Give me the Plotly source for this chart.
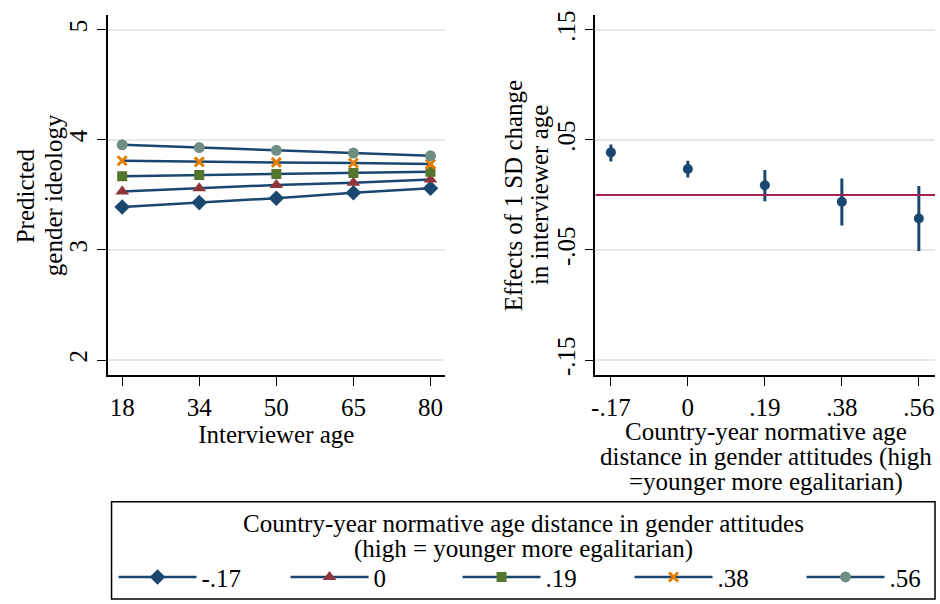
import plotly.graph_objects as go

# ---- data ----
ages = ["18", "34", "50", "65", "80"]
groups = ["-.17", "0", ".19", ".38", ".56"]
pred = {
    "-.17": [3.39, 3.43, 3.47, 3.52, 3.56],
    "0":    [3.53, 3.56, 3.59, 3.61, 3.64],
    ".19":  [3.67, 3.68, 3.69, 3.70, 3.71],
    ".38":  [3.81, 3.80, 3.795, 3.79, 3.78],
    ".56":  [3.955, 3.93, 3.905, 3.88, 3.855],
}
effect = [0.0386, 0.0235, 0.0087, -0.0063, -0.0214]
ci_hi = [0.0458, 0.0310, 0.0226, 0.0150, 0.0081]
ci_lo = [0.0304, 0.0157, -0.0057, -0.0277, -0.0509]

left_yticks = [2, 3, 4, 5]
right_yticks = [-0.15, -0.05, 0.05, 0.15]
right_yticklabels = ["-.15", "-.05", ".05", ".15"]

left_ytitle = ["Predicted", "gender ideology"]
right_ytitle = ["Effects of 1 SD change", "in interviewer age"]
right_xtitle = ["Country-year normative age", "distance in gender attitudes (high", "=younger more egalitarian)"]
legend_title = ["Country-year normative age distance in gender attitudes", "(high = younger more egalitarian)"]

# ---- styles ----
navy = "#1a476f"
marker_style = {
    "-.17": dict(symbol="diamond", color="#1a476f", size=12),
    "0":    dict(symbol="triangle-up", color="#90353b", size=12),
    ".19":  dict(symbol="square", color="#55752f", size=10),
    ".38":  dict(symbol="x-thin", color="#e37e00", size=9, line=dict(width=3, color="#e37e00")),
    ".56":  dict(symbol="circle", color="#6e8e84", size=11),
}
FONT = "Liberation Serif"
W, H = 940, 604

fig = go.Figure()
for i, g in enumerate(groups):
    fig.add_trace(go.Scatter(
        x=ages, y=pred[g], mode="lines+markers", name=g,
        line=dict(color=navy, width=2.5),
        marker=marker_style[g], xaxis="x", yaxis="y",
        legendwidth=(40 if i == len(groups) - 1 else None),
    ))

fig.add_trace(go.Scatter(
    x=groups, y=effect, mode="markers", showlegend=False,
    marker=dict(symbol="circle", color=navy, size=10),
    error_y=dict(type="data", symmetric=False,
                 array=[h - e for h, e in zip(ci_hi, effect)],
                 arrayminus=[e - l for l, e in zip(ci_lo, effect)],
                 color=navy, thickness=3, width=0),
    xaxis="x2", yaxis="y2",
))

axis_common = dict(showline=True, linecolor="black", linewidth=1.5, ticks="outside",
                   ticklen=9, tickcolor="black", tickwidth=1.2, zeroline=False,
                   tickfont=dict(family=FONT, size=25, color="black"))

annotations = []
for txt, xc in zip(left_ytitle, [21, 50]):
    annotations.append(dict(text=txt, xref="paper", yref="paper", x=xc / W, y=1 - 193 / H,
                            textangle=-90, showarrow=False, xanchor="center", yanchor="middle",
                            font=dict(size=25)))
for txt, xc in zip(right_ytitle, [512, 538]):
    annotations.append(dict(text=txt, xref="paper", yref="paper", x=xc / W, y=1 - 193 / H,
                            textangle=-90, showarrow=False, xanchor="center", yanchor="middle",
                            font=dict(size=25)))
for txt, yc in zip(right_xtitle, [431, 457, 482]):
    annotations.append(dict(text=txt, xref="paper", yref="paper", x=765 / W, y=1 - yc / H,
                            showarrow=False, xanchor="center", yanchor="middle",
                            font=dict(size=25)))
for txt, yc in zip(legend_title, [524, 550]):
    annotations.append(dict(text=txt, xref="paper", yref="paper", x=522 / W, y=1 - yc / H,
                            showarrow=False, xanchor="center", yanchor="middle",
                            font=dict(size=25)))

fig.update_layout(
    width=W, height=H,
    margin=dict(l=0, r=0, t=0, b=0),
    paper_bgcolor="white", plot_bgcolor="white",
    font=dict(family=FONT, size=25, color="black"),
    xaxis=dict(domain=[104/W, 443/W], type="category", range=[-0.19, 4.19],
               showgrid=False, anchor="y",
               title=dict(text="Interviewer age", font=dict(size=25), standoff=0),
               **axis_common),
    yaxis=dict(domain=[1-374/H, 1-11/H], range=[1.865, 5.135], tickvals=left_yticks,
               tickangle=-90, showgrid=True, gridcolor="#e8e8e8", gridwidth=1.5, anchor="x",
               **axis_common),
    xaxis2=dict(domain=[594/W, 935/W], type="category", range=[-0.2, 4.21],
                showgrid=False, anchor="y2", **axis_common),
    yaxis2=dict(domain=[1-374/H, 1-11/H], range=[-0.1635, 0.1635], tickvals=right_yticks,
                ticktext=right_yticklabels, tickangle=-90, showgrid=True, gridcolor="#e8e8e8",
                gridwidth=1.5, anchor="x2", **axis_common),
    legend=dict(orientation="h", x=110/W, xanchor="left", y=1-578/H, yanchor="middle",
                font=dict(size=25), itemwidth=78, entrywidth=79, bgcolor="rgba(0,0,0,0)",
                borderwidth=0, tracegroupgap=0),
    annotations=annotations,
    shapes=[
        dict(type="line", xref="x2 domain", yref="y2", x0=0, x1=1, y0=0, y1=0,
             line=dict(color="#a62050", width=2), layer="above"),
        dict(type="rect", xref="paper", yref="paper", x0=108/W, x1=935/W,
             y0=1-600/H, y1=1-502/H, line=dict(color="black", width=1.5)),
    ],
)

fig.write_html("out.html", config={"displayModeBar": False},
               post_script="document.body.style.margin='0';document.body.style.overflow='hidden';")
